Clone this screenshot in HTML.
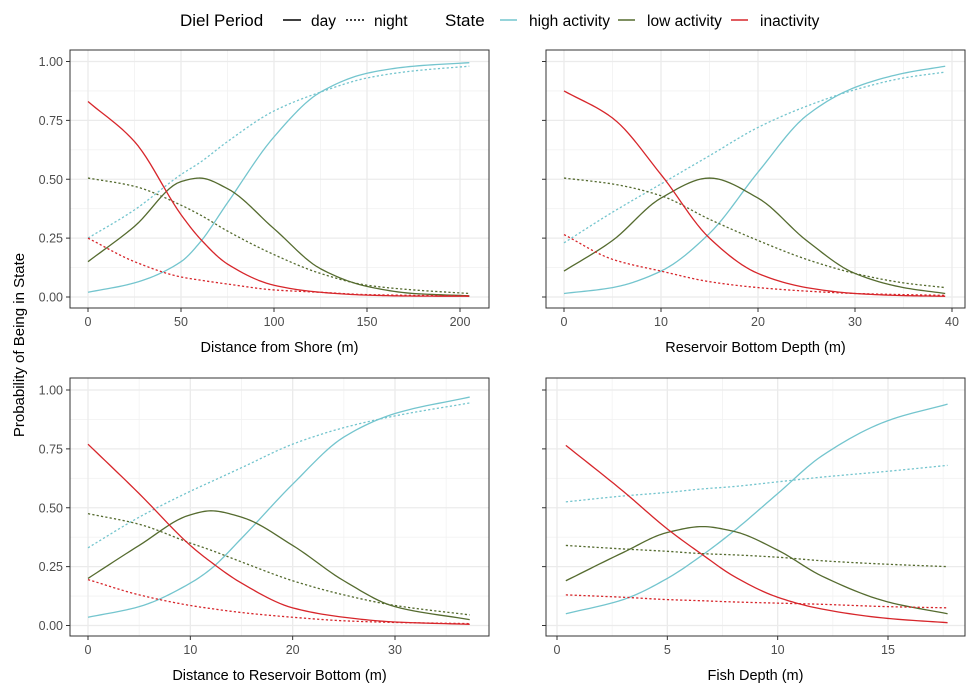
<!DOCTYPE html>
<html><head><meta charset="utf-8">
<style>
html,body{margin:0;padding:0;background:#fff;}
svg{display:block;font-family:"Liberation Sans",Arial,sans-serif;}
</style></head>
<body>
<svg id="chart" width="975" height="697" viewBox="0 0 975 697">
  <g font-size="15.5" fill="#000">
    <text x="180" y="26" font-size="17">Diel Period</text>
    <line x1="283" y1="20" x2="301" y2="20" stroke="#000" stroke-width="1.4"/>
    <text x="311" y="26">day</text>
    <line x1="346" y1="20" x2="364" y2="20" stroke="#000" stroke-width="1.4" stroke-dasharray="2,2"/>
    <text x="374" y="26">night</text>
    <text x="445" y="26" font-size="17">State</text>
    <line x1="500" y1="20" x2="517" y2="20" stroke="#74c5ce" stroke-width="1.6"/>
    <text x="529" y="26">high activity</text>
    <line x1="618" y1="20" x2="635" y2="20" stroke="#556b2f" stroke-width="1.6"/>
    <text x="647" y="26">low activity</text>
    <line x1="731" y1="20" x2="748" y2="20" stroke="#d7262b" stroke-width="1.6"/>
    <text x="760" y="26">inactivity</text>
  </g>
  <text transform="translate(24,345) rotate(-90)" text-anchor="middle" font-size="15">Probability of Being in State</text>
</svg>
<script>
// ---- shared tick data ----
const yTicks = [0, 0.25, 0.5, 0.75, 1];
const yTickLabels = ["0.00", "0.25", "0.50", "0.75", "1.00"];

// ---- Panel 1: Distance from Shore ----
const p1X = [0, 25, 50, 60, 75, 100, 125, 150, 175, 205];
const p1HighDay   = [0.02, 0.06, 0.15, 0.23, 0.40, 0.68, 0.87, 0.95, 0.98, 0.995];
const p1HighNight = [0.25, 0.37, 0.52, 0.57, 0.66, 0.79, 0.87, 0.93, 0.96, 0.98];
const p1LowDay    = [0.15, 0.30, 0.49, 0.505, 0.46, 0.29, 0.12, 0.045, 0.015, 0.005];
const p1LowNight  = [0.505, 0.47, 0.39, 0.35, 0.28, 0.18, 0.10, 0.05, 0.03, 0.015];
const p1InDay     = [0.83, 0.66, 0.35, 0.25, 0.14, 0.05, 0.02, 0.008, 0.004, 0.003];
const p1InNight   = [0.25, 0.15, 0.085, 0.072, 0.055, 0.03, 0.02, 0.01, 0.007, 0.005];
const p1XTicks = [0, 50, 100, 150, 200];

// ---- Panel 2: Reservoir Bottom Depth ----
const p2X = [0, 5, 10, 15, 20, 25, 30, 35, 39.3];
const p2HighDay   = [0.015, 0.04, 0.11, 0.27, 0.53, 0.77, 0.89, 0.95, 0.98];
const p2HighNight = [0.23, 0.36, 0.48, 0.60, 0.72, 0.81, 0.88, 0.93, 0.955];
const p2LowDay    = [0.11, 0.24, 0.42, 0.505, 0.42, 0.24, 0.10, 0.04, 0.015];
const p2LowNight  = [0.505, 0.48, 0.43, 0.33, 0.24, 0.16, 0.10, 0.06, 0.04];
const p2InDay     = [0.875, 0.76, 0.52, 0.25, 0.10, 0.04, 0.015, 0.006, 0.003];
const p2InNight   = [0.265, 0.16, 0.11, 0.065, 0.04, 0.025, 0.015, 0.01, 0.007];
const p2XTicks = [0, 10, 20, 30, 40];

// ---- Panel 3: Distance to Reservoir Bottom ----
const p3X = [0, 5, 10, 12, 15, 20, 25, 30, 37.3];
const p3HighDay   = [0.035, 0.08, 0.18, 0.24, 0.37, 0.60, 0.80, 0.90, 0.97];
const p3HighNight = [0.33, 0.46, 0.57, 0.61, 0.67, 0.77, 0.84, 0.89, 0.945];
const p3LowDay    = [0.20, 0.34, 0.47, 0.487, 0.46, 0.34, 0.19, 0.08, 0.025];
const p3LowNight  = [0.475, 0.43, 0.35, 0.32, 0.27, 0.19, 0.13, 0.085, 0.045];
const p3InDay     = [0.77, 0.56, 0.34, 0.27, 0.18, 0.075, 0.035, 0.015, 0.005];
const p3InNight   = [0.195, 0.13, 0.085, 0.072, 0.055, 0.035, 0.02, 0.013, 0.008];
const p3XTicks = [0, 10, 20, 30];

// ---- Panel 4: Fish Depth ----
const p4X = [0.4, 3, 5, 6.6, 8, 10, 12, 15, 17.7];
const p4HighDay   = [0.05, 0.11, 0.20, 0.30, 0.40, 0.56, 0.72, 0.87, 0.94];
const p4HighNight = [0.525, 0.55, 0.565, 0.58, 0.59, 0.61, 0.63, 0.655, 0.68];
const p4LowDay    = [0.19, 0.31, 0.395, 0.42, 0.40, 0.32, 0.21, 0.10, 0.05];
const p4LowNight  = [0.34, 0.325, 0.315, 0.305, 0.30, 0.29, 0.275, 0.26, 0.25];
const p4InDay     = [0.765, 0.57, 0.41, 0.30, 0.21, 0.12, 0.07, 0.03, 0.012];
const p4InNight   = [0.13, 0.12, 0.11, 0.105, 0.10, 0.095, 0.09, 0.08, 0.075];
const p4XTicks = [0, 5, 10, 15];

const COL = {high: "#74c5ce", low: "#556b2f", inact: "#d7262b"};
const NS = "http://www.w3.org/2000/svg";
const svg = document.getElementById("chart");

function mk(tag, attrs, parent) {
  const e = document.createElementNS(NS, tag);
  for (const k in attrs) e.setAttribute(k, attrs[k]);
  (parent || svg).appendChild(e);
  return e;
}

// monotone cubic Hermite (Fritsch-Carlson), handles uneven x spacing
function monotoneSample(xs, ys, n) {
  const m = xs.length, d = [], t = new Array(m);
  for (let i = 0; i < m - 1; i++) d.push((ys[i + 1] - ys[i]) / (xs[i + 1] - xs[i]));
  t[0] = d[0]; t[m - 1] = d[m - 2];
  for (let i = 1; i < m - 1; i++) {
    if (d[i - 1] * d[i] <= 0) t[i] = 0;
    else {
      const h0 = xs[i] - xs[i - 1], h1 = xs[i + 1] - xs[i];
      const w1 = 2 * h1 + h0, w2 = h1 + 2 * h0;
      t[i] = (w1 + w2) / (w1 / d[i - 1] + w2 / d[i]);
    }
  }
  const out = [];
  for (let i = 0; i < m - 1; i++) {
    const h = xs[i + 1] - xs[i];
    for (let k = 0; k < n; k++) {
      const s = k / n, s2 = s * s, s3 = s2 * s;
      const y = (2 * s3 - 3 * s2 + 1) * ys[i] + (s3 - 2 * s2 + s) * h * t[i] +
                (-2 * s3 + 3 * s2) * ys[i + 1] + (s3 - s2) * h * t[i + 1];
      out.push([xs[i] + s * h, y]);
    }
  }
  out.push([xs[m - 1], ys[m - 1]]);
  return out;
}

function panel(cfg) {
  const g = mk("g", {});
  
  
  const L = cfg.box[0], T = cfg.box[1], R = cfg.box[2], B = cfg.box[3];
  const sx = v => cfg.x0px + (v - cfg.xa) * (cfg.x1px - cfg.x0px) / (cfg.xb - cfg.xa);
  const sy = v => cfg.y0px + v * (cfg.y1px - cfg.y0px);
  for (let i = 0; i < yTicks.length - 1; i++) {
    const yy = sy((yTicks[i] + yTicks[i + 1]) / 2);
    const m = mk("line", {x1: L, x2: R, y1: yy, y2: yy, stroke: "#f2f2f2", "stroke-width": 0.8}, g);
    
    
  }
  const xt = cfg.xTicks;
  const step = xt[1] - xt[0];
  for (let v = xt[0] - step / 2; v <= cfg.xb + step; v += step) {
    const xx = sx(v);
    if (xx <= L || xx >= R) continue;
    const m = mk("line", {x1: xx, x2: xx, y1: T, y2: B, stroke: "#f2f2f2", "stroke-width": 0.8}, g);
    
    
  }
  yTicks.forEach((t, i) => {
    const yy = sy(t);
    const gl = mk("line", {x1: L, x2: R, y1: yy, y2: yy, stroke: "#ebebeb", "stroke-width": 1.3}, g);
    
    
    const tk = mk("line", {x1: L - 4, x2: L, y1: yy, y2: yy, stroke: "#333", "stroke-width": 1}, g);
    
    
    if (cfg.showY) {
      const tx = mk("text", {x: L - 7, y: yy + 4.5, "text-anchor": "end", "font-size": 12.5, fill: "#4d4d4d"}, g);
      tx.textContent = yTickLabels[i];
      
      
    }
  });
  xt.forEach(t => {
    const xx = sx(t);
    const gl = mk("line", {x1: xx, x2: xx, y1: T, y2: B, stroke: "#ebebeb", "stroke-width": 1.3}, g);
    
    
    const tk = mk("line", {x1: xx, x2: xx, y1: B, y2: B + 4, stroke: "#333", "stroke-width": 1}, g);
    
    
    const tx = mk("text", {x: xx, y: B + 18, "text-anchor": "middle", "font-size": 12.5, fill: "#4d4d4d"}, g);
    tx.textContent = String(t);
    
    
  });
  cfg.series.forEach(s => {
    const pts = monotoneSample(cfg.xs, s.vals, 12);
    const d = pts.map((p, i) => (i ? "L" : "M") + sx(p[0]).toFixed(2) + "," + sy(p[1]).toFixed(2)).join(" ");
    const p = mk("path", {d: d, fill: "none", stroke: COL[s.state], "stroke-width": 1.3, "stroke-linejoin": "round"}, g);
    if (s.night) p.setAttribute("stroke-dasharray", "2.2,2.2");
    
    
  });
  const bd = mk("rect", {x: L, y: T, width: R - L, height: B - T, fill: "none", stroke: "#333", "stroke-width": 1}, g);
  
  
  const at = mk("text", {x: (L + R) / 2, y: B + 44, "text-anchor": "middle", "font-size": 14.5, fill: "#000"}, g);
  at.textContent = cfg.title;
  
  
}

function ser(hd, hn, ld, ln, id, inn) {
  return [
    {state: "high", night: false, vals: hd, label: "line-high-day"},
    {state: "high", night: true, vals: hn, label: "line-high-night"},
    {state: "low", night: false, vals: ld, label: "line-low-day"},
    {state: "low", night: true, vals: ln, label: "line-low-night"},
    {state: "inact", night: false, vals: id, label: "line-inactivity-day"},
    {state: "inact", night: true, vals: inn, label: "line-inactivity-night"}
  ];
}

panel({name: "panel-distance-from-shore", box: [70, 50, 489, 308], xa: 0, xb: 200, x0px: 88, x1px: 460,
  y0px: 297, y1px: 61.5, xTicks: p1XTicks, showY: true, title: "Distance from Shore (m)", xs: p1X,
  series: ser(p1HighDay, p1HighNight, p1LowDay, p1LowNight, p1InDay, p1InNight)});
panel({name: "panel-reservoir-bottom-depth", box: [546, 50, 965, 308], xa: 0, xb: 40, x0px: 564, x1px: 952,
  y0px: 297, y1px: 61.5, xTicks: p2XTicks, showY: false, title: "Reservoir Bottom Depth (m)", xs: p2X,
  series: ser(p2HighDay, p2HighNight, p2LowDay, p2LowNight, p2InDay, p2InNight)});
panel({name: "panel-distance-to-bottom", box: [70, 378, 489, 636], xa: 0, xb: 30, x0px: 88, x1px: 395,
  y0px: 625.5, y1px: 390, xTicks: p3XTicks, showY: true, title: "Distance to Reservoir Bottom (m)", xs: p3X,
  series: ser(p3HighDay, p3HighNight, p3LowDay, p3LowNight, p3InDay, p3InNight)});
panel({name: "panel-fish-depth", box: [546, 378, 965, 636], xa: 0, xb: 15, x0px: 557, x1px: 888,
  y0px: 625.5, y1px: 390, xTicks: p4XTicks, showY: false, title: "Fish Depth (m)", xs: p4X,
  series: ser(p4HighDay, p4HighNight, p4LowDay, p4LowNight, p4InDay, p4InNight)});
</script>
</body></html>
